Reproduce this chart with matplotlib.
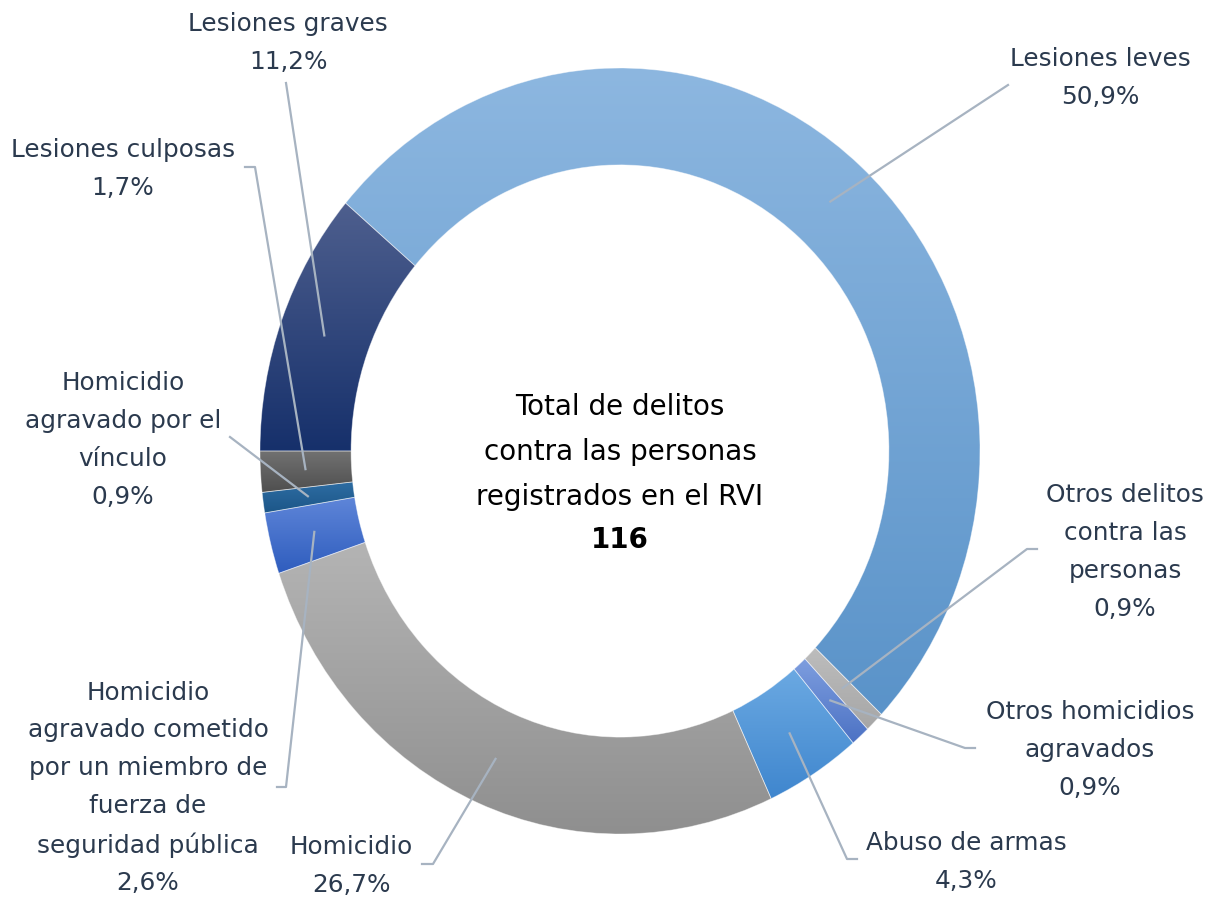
import numpy as np
import matplotlib
matplotlib.use('Agg')
import matplotlib.pyplot as plt
from matplotlib.colors import LinearSegmentedColormap

# categories in clockwise order, starting with Lesiones leves
labels = ['Lesiones leves',
          'Otros delitos\ncontra las\npersonas',
          'Otros homicidios\nagravados',
          'Abuso de armas',
          'Homicidio',
          'Homicidio\nagravado cometido\npor un miembro de\nfuerza de\nseguridad pública',
          'Homicidio\nagravado por el\nvínculo',
          'Lesiones culposas',
          'Lesiones graves']
counts = [59, 1, 1, 5, 31, 3, 1, 2, 13]

# gradient colours (top, bottom) for each slice
colors = [('#8DB7E0', '#5A93C9'),
          ('#BDBDBD', '#A6A6A6'),
          ('#7E9EDF', '#4C72C4'),
          ('#6BA9E2', '#3F86CE'),
          ('#B4B4B4', '#8F8F8F'),
          ('#5F86D9', '#2F5DBE'),
          ('#2E6DA3', '#1C5688'),
          ('#727272', '#4F4F4F'),
          ('#4E5F8E', '#16306B')]

center_title = 'Total de delitos\ncontra las personas\nregistrados en el RVI'

# ----- layout (pixels in the 1221x899 picture) -----
W, H = 1221, 899
CX, CY, RX, RY = 620, 451, 360, 383
text_pos = [(1100, 78), (1125, 552), (1090, 750), (966, 862), (351, 866),
            (148, 788), (123, 440), (123, 169), (288, 43)]
leader_start = [[(1008, 85)],
                [(1037, 549), (1027, 549)],
                [(975, 748), (965, 748)],
                [(857, 859), (847, 859)],
                [(422, 864), (433, 864)],
                [(277, 787), (286, 787)],
                [(230, 437)],
                [(245, 167), (255, 167)],
                [(286, 83)]]

LABEL_COLOR = '#2B3A4E'
LINE_COLOR = '#A7B3C1'
plt.rcParams['font.family'] = ['DejaVu Sans']


def px2data(p):
    return (p[0] - CX) / RX, (CY - p[1]) / RY


def main():
    fig = plt.figure(figsize=(W / 100, H / 100), dpi=100)
    ax = fig.add_axes([(CX - RX) / W, (H - CY - RY) / H, 2 * RX / W, 2 * RY / H])

    total = sum(counts)
    # Lesiones graves (last slice) ends at 180 deg
    start = 180 - 360 + 360 * (total - counts[-1]) / total
    wedges, _ = ax.pie(counts, startangle=start, counterclock=False, radius=1,
                       wedgeprops=dict(width=0.253, edgecolor='none'))

    grad = np.linspace(0, 1, 256)[:, None]
    for w, (c_top, c_bot) in zip(wedges, colors):
        bb = w.get_path().get_extents()
        cmap = LinearSegmentedColormap.from_list('g', [c_top, c_bot])
        im = ax.imshow(grad, extent=(bb.x0, bb.x1, bb.y0, bb.y1), origin='upper',
                       cmap=cmap, aspect='auto', zorder=1, interpolation='bilinear')
        im.set_clip_path(w)
        w.set_facecolor('none')
        w.set_edgecolor((1, 1, 1, 0.45))
        w.set_linewidth(0.6)
        w.set_zorder(2)

    ax.set_aspect('auto')
    ax.set_xlim(-1, 1)
    ax.set_ylim(-1, 1)
    ax.axis('off')

    # labels and leader lines
    for w, lab, c, tp, ls in zip(wedges, labels, counts, text_pos, leader_start):
        pct = f'{100 * c / total:.1f}'.replace('.', ',') + '%'
        tx, ty = px2data(tp)
        ax.text(tx, ty, lab + '\n' + pct, ha='center', va='center', fontsize=17.8,
                color=LABEL_COLOR, linespacing=1.72, clip_on=False)
        mid = np.deg2rad((w.theta1 + w.theta2) / 2)
        pts = [px2data(p) for p in ls] + [(0.875 * np.cos(mid), 0.875 * np.sin(mid))]
        xs, ys = zip(*pts)
        ax.plot(xs, ys, color=LINE_COLOR, lw=1.6, clip_on=False, zorder=3)

    # centre text
    ax.text(0, px2data((CX, 452))[1], center_title, ha='center', va='center',
            fontsize=20, color='black', linespacing=1.78)
    ax.text(0, px2data((CX, 540))[1], str(total), ha='center', va='center',
            fontsize=20, color='black', fontweight='bold')

    fig.savefig('out.png', dpi=100, facecolor='white')


if __name__ == "__main__":
    main()
